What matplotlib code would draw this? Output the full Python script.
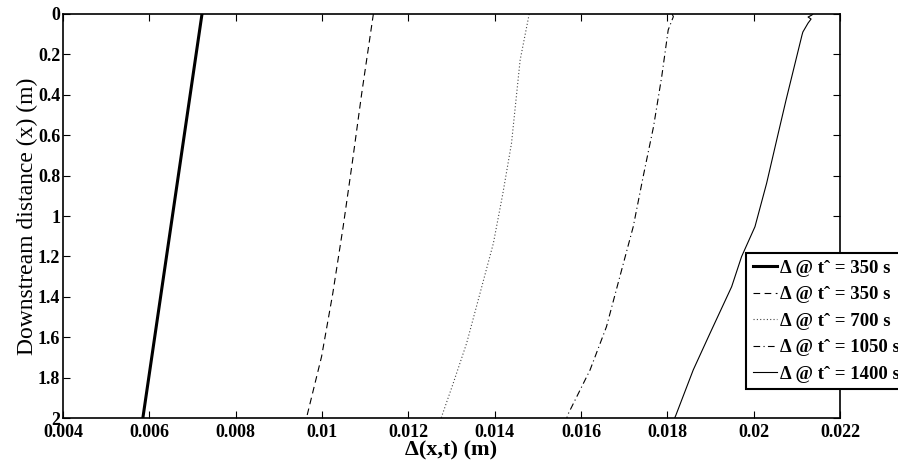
import matplotlib
matplotlib.use("Agg")
import matplotlib.pyplot as plt

# Data
y_thick = [0.0, 2.0]
x_thick = [0.00722, 0.00585]

y_dash = [0.0, 0.393, 0.723, 1.053, 1.383, 1.696, 2.0]
x_dash = [0.01119, 0.01092, 0.01071, 0.01049, 0.01025, 0.00999, 0.00964]

y_dot = [0.0, 0.228, 0.64, 0.888, 1.135, 1.383, 1.63, 1.828, 2.0]
x_dot = [0.0148, 0.01459, 0.01439, 0.01419, 0.01397, 0.01366, 0.01335, 0.01304, 0.01276]

y_dashdot = [0.0, 0.013, 0.079, 0.31, 0.558, 0.805, 1.053, 1.3, 1.548, 1.762, 1.977, 2.0]
x_dashdot = [0.01811, 0.01814, 0.01802, 0.01787, 0.01768, 0.01744, 0.01721, 0.0169, 0.01659, 0.01621, 0.01571, 0.01567]

y_thin = [0.0, 0.005, 0.015, 0.025, 0.045, 0.089, 0.104, 0.426, 0.59, 0.838, 1.053, 1.201, 1.35, 1.58, 1.762, 1.985, 2.0]
x_thin = [0.02137, 0.02135, 0.02126, 0.02133, 0.02126, 0.02114, 0.02112, 0.02075, 0.02057, 0.0203, 0.02003, 0.01972, 0.01949, 0.01899, 0.0186, 0.0182, 0.01817]

labels = ["Δ @ tˆ = 350 s", "Δ @ tˆ = 350 s", "Δ @ tˆ = 700 s", "Δ @ tˆ = 1050 s", "Δ @ tˆ = 1400 s"]
xticks = [0.004, 0.006, 0.008, 0.01, 0.012, 0.014, 0.016, 0.018, 0.02, 0.022]
yticks = [0, 0.2, 0.4, 0.6, 0.8, 1, 1.2, 1.4, 1.6, 1.8, 2]

plt.rcParams['font.family'] = ['Liberation Serif', 'DejaVu Serif']

fig = plt.figure(figsize=(8.98, 4.65), dpi=100)
ax = fig.add_axes([63/898, 1-418/465, (840-63)/898, (418-14)/465])

ax.plot(x_thick, y_thick, color='black', lw=2.2, ls='-', label=labels[0])
ax.plot(x_dash, y_dash, color='black', lw=0.8, ls=(0, (6, 4)), label=labels[1])
ax.plot(x_dot, y_dot, color='#444444', lw=0.8, ls=(0, (1, 2)), label=labels[2])
ax.plot(x_dashdot, y_dashdot, color='black', lw=0.8, ls=(0, (6, 3, 1, 3)), label=labels[3])
ax.plot(x_thin, y_thin, color='black', lw=0.8, ls='-', label=labels[4])

ax.set_xlim(0.004, 0.022)
ax.set_ylim(2, 0)
ax.set_xticks(xticks)
ax.set_xticklabels(['%g' % v for v in xticks])
ax.set_yticks(yticks)
ax.set_yticklabels(['%g' % v for v in yticks])
ax.tick_params(direction='in', top=True, right=True, length=5, width=0.8,
               labelsize=13)
ax.tick_params(axis='x', pad=4)
ax.tick_params(axis='y', pad=2)
for lab in ax.get_xticklabels() + ax.get_yticklabels():
    lab.set_fontweight('bold')
for s in ax.spines.values():
    s.set_linewidth(1.2)

ax.set_xlabel('Δ(x,t) (m)', fontsize=16, fontweight='bold', labelpad=0)
ax.set_ylabel('Downstream distance (x) (m)', fontsize=17, labelpad=0)

leg = ax.legend(loc='upper left', bbox_to_anchor=(746/898, 1-253/465),
                bbox_transform=fig.transFigure, borderaxespad=0,
                fancybox=False, framealpha=1, edgecolor='black',
                prop={'weight': 'bold', 'size': 13.5}, handlelength=1.3,
                handletextpad=0.15, labelspacing=0.5, borderpad=0.35)
leg.get_frame().set_linewidth(1.5)

fig.savefig('out.png', dpi=100)
